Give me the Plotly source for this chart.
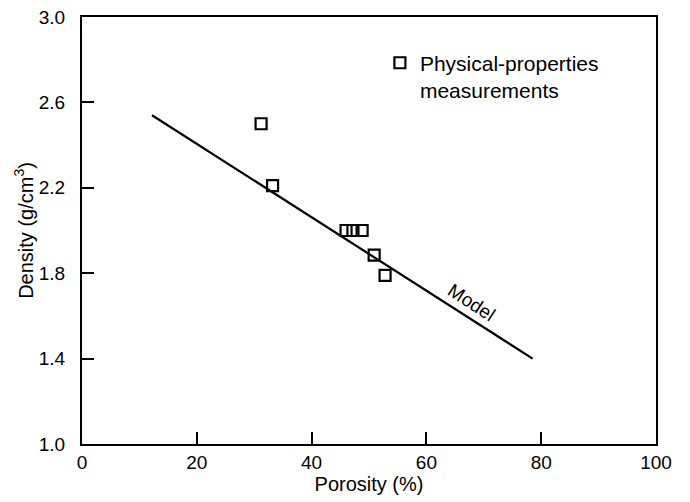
import plotly.graph_objects as go

# Data
porosity_meas = [31.2, 33.2, 46.0, 47.2, 48.8, 50.9, 52.8]
density_meas = [2.50, 2.21, 2.00, 2.00, 2.00, 1.885, 1.79]

model_porosity = [12.2, 78.5]
model_density = [2.54, 1.40]

x_ticks = [0, 20, 40, 60, 80, 100]
y_ticks = [1.0, 1.4, 1.8, 2.2, 2.6, 3.0]

FONT = "Liberation Sans, Arial, Helvetica, sans-serif"

fig = go.Figure()
fig.add_trace(go.Scatter(
    x=model_porosity, y=model_density, mode="lines",
    line=dict(color="black", width=2.2), showlegend=False, hoverinfo="skip"))
fig.add_trace(go.Scatter(
    x=porosity_meas, y=density_meas, mode="markers",
    name="Physical-properties<br>measurements",
    marker=dict(symbol="square-open", size=11, color="black",
                line=dict(color="black", width=2.2))))

fig.add_annotation(x=67.9, y=1.665, text="Model", showarrow=False,
                   textangle=33, font=dict(family=FONT, size=19, color="black"))

fig.update_xaxes(range=[0, 100], tickmode="array", tickvals=x_ticks,
                 showline=True, linecolor="black", linewidth=2, mirror=True,
                 ticks="inside", ticklen=12, tickwidth=1.8, tickcolor="black",
                 showgrid=False, zeroline=False,
                 tickfont=dict(family=FONT, size=19, color="black"),
                 title=dict(text="Porosity (%)", font=dict(family=FONT, size=20, color="black"), standoff=4))
fig.update_yaxes(range=[1.0, 3.0], tickmode="array", tickvals=y_ticks, tickformat=".1f",
                 showline=True, linecolor="black", linewidth=2, mirror=True,
                 ticks="inside", ticklen=12, tickwidth=1.8, tickcolor="black",
                 showgrid=False, zeroline=False, ticklabelstandoff=11,
                 tickfont=dict(family=FONT, size=19, color="black"),
                 title=dict(text="Density (g/cm<sup>3</sup>)", font=dict(family=FONT, size=20, color="black"), standoff=0))

fig.update_layout(
    template="none",
    width=690, height=502,
    margin=dict(l=82, r=34, t=17, b=58),
    plot_bgcolor="white", paper_bgcolor="white",
    font=dict(family=FONT, size=19, color="black"),
    legend=dict(x=0.519, y=0.94, xanchor="left", yanchor="top",
                valign="top", bgcolor="rgba(0,0,0,0)", itemwidth=30,
                font=dict(family=FONT, size=21, color="black")),
)

fig.write_html("out.html")
